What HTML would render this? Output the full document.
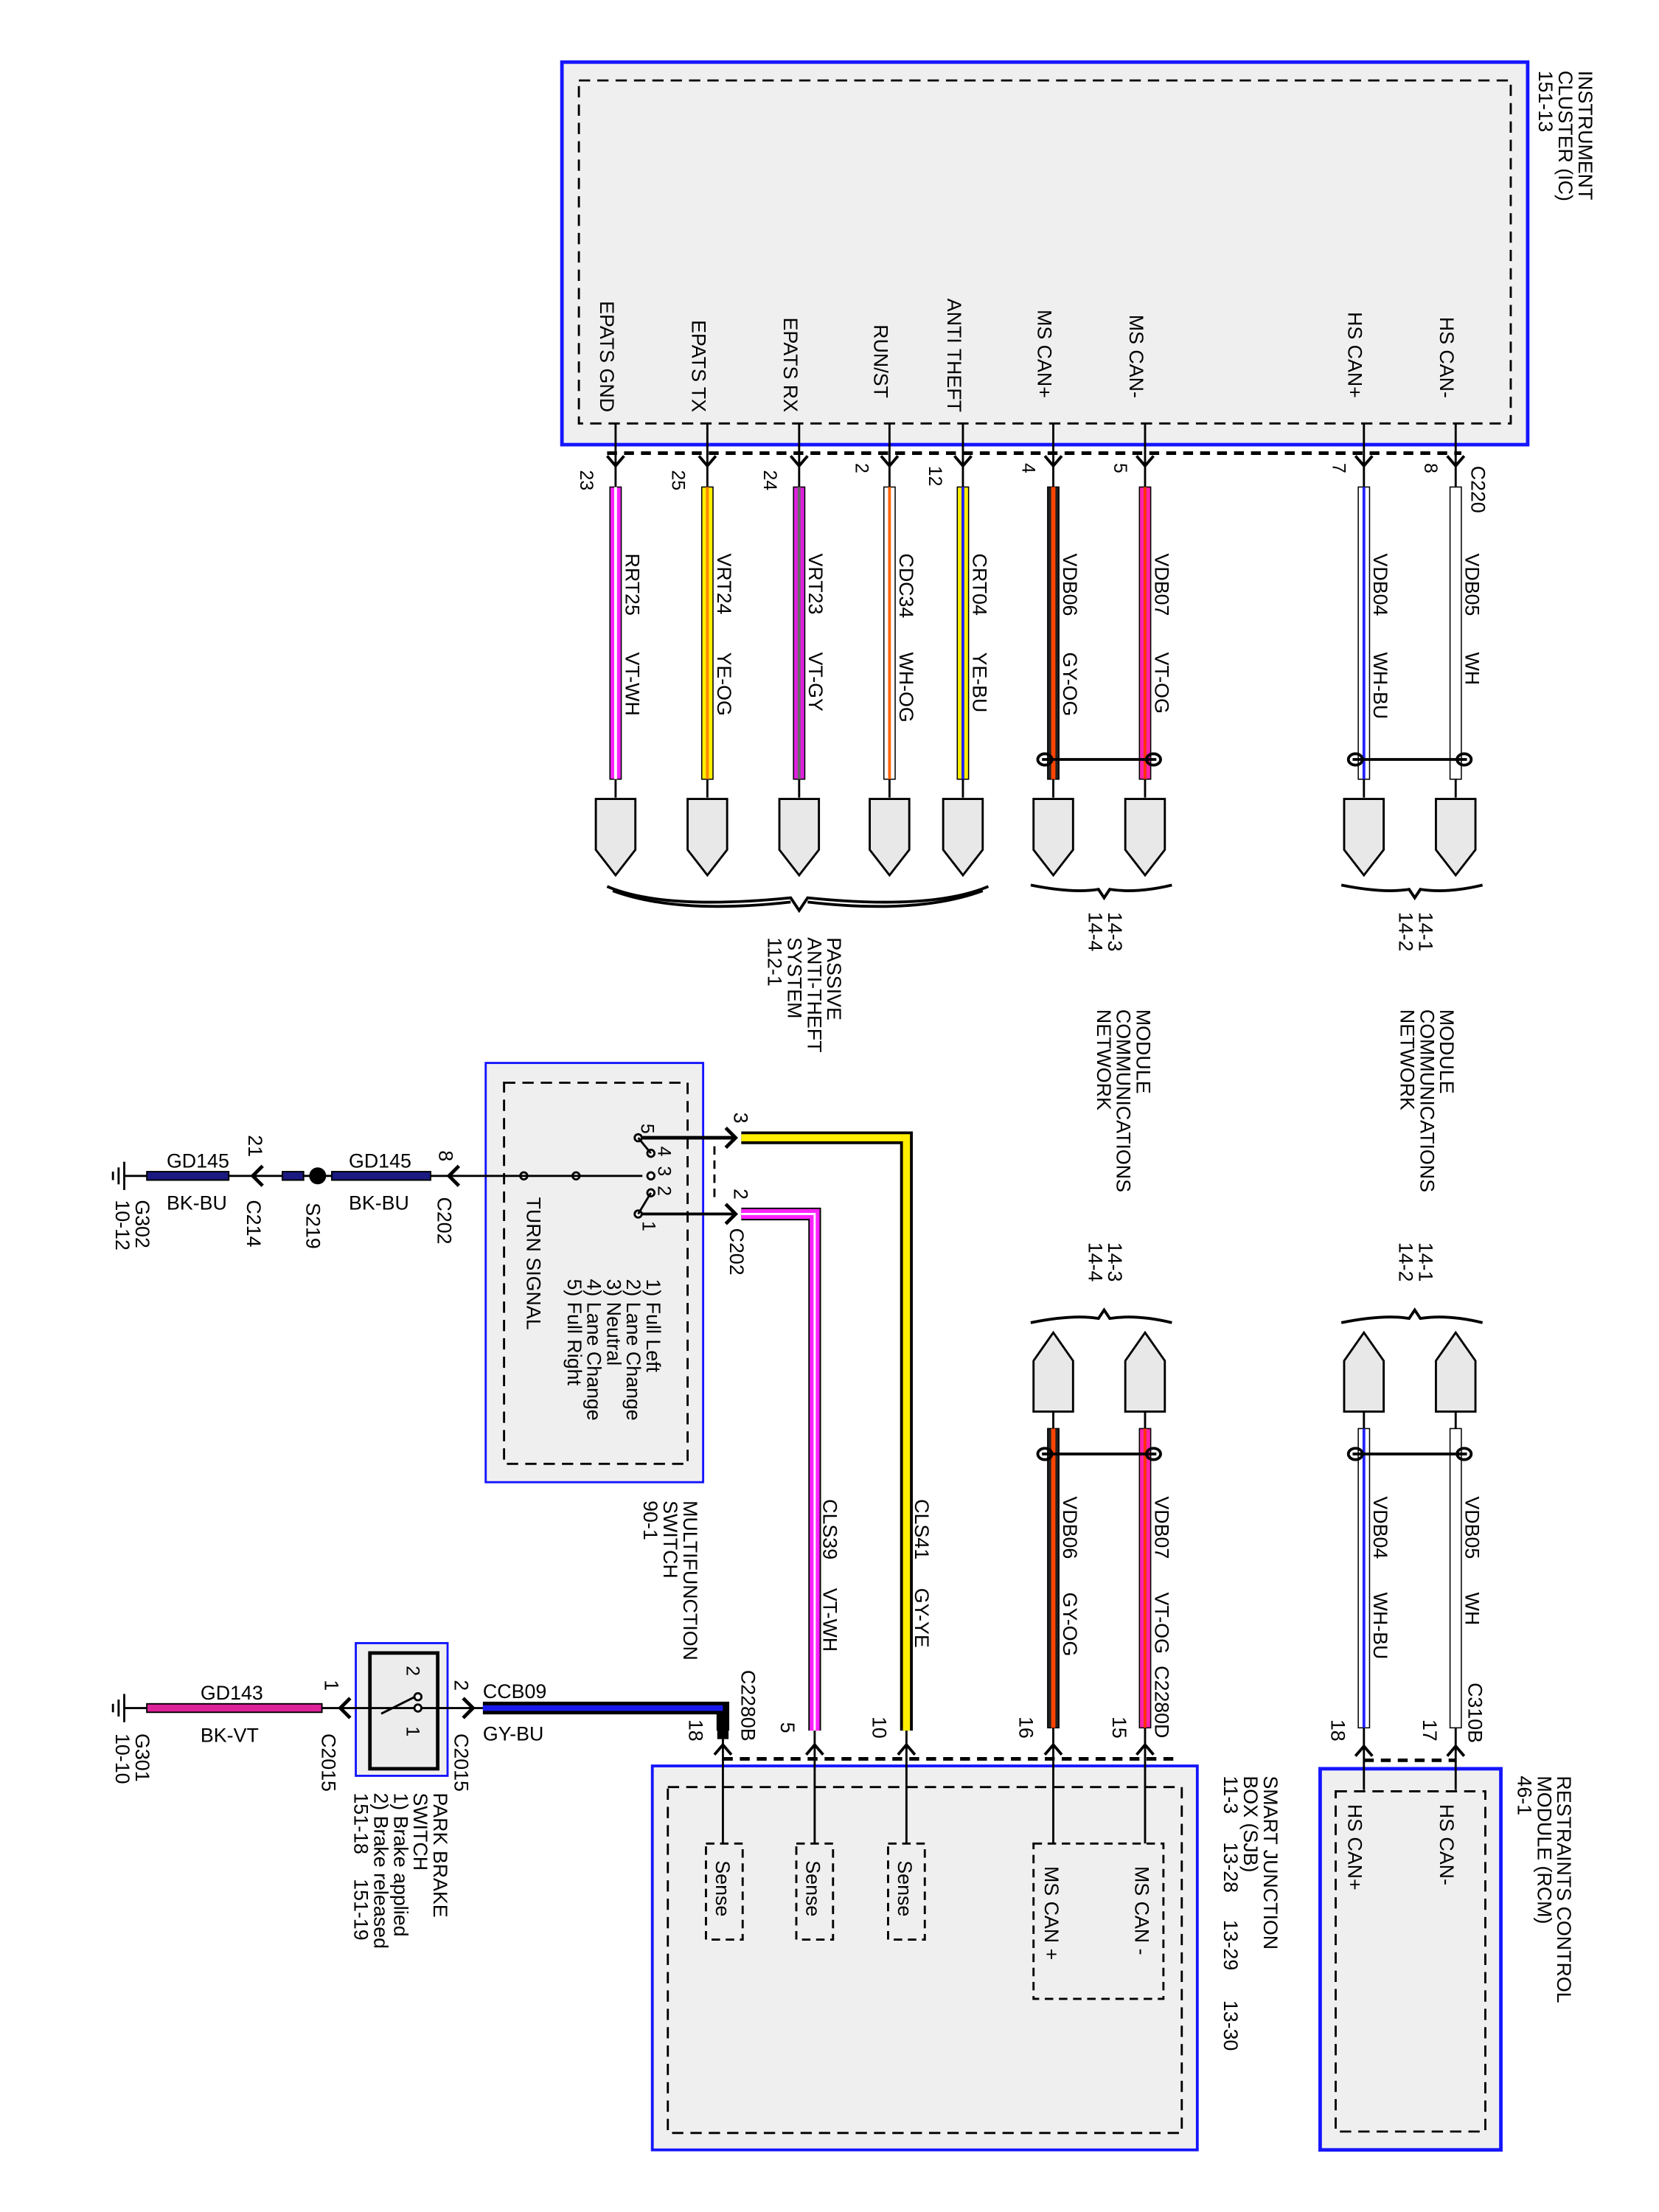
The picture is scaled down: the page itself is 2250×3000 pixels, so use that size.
<!DOCTYPE html>
<html><head><meta charset="utf-8"><style>
html,body{margin:0;padding:0;background:#fff;}
svg{display:block;}
text{font-family:"Liberation Sans",Arial,sans-serif;font-size:14px;fill:#000;}
.s{font-size:13px;}
</style></head><body>
<svg width="2250" height="3000" viewBox="0 0 1175 1567" preserveAspectRatio="none" xmlns="http://www.w3.org/2000/svg">
<defs>
<g id="arD"><path d="M-6,-7 L0,0 L6,-7" fill="none" stroke="#000" stroke-width="2"/></g>
<g id="arU"><path d="M-6,7 L0,0 L6,7" fill="none" stroke="#000" stroke-width="2"/></g>
<g id="plugD"><path d="M-14,0 L14,0 L14,36 L0,54 L-14,36 Z" fill="#e8e8e8" stroke="#000" stroke-width="1.5"/></g>
<g id="plugU"><path d="M-14,56 L14,56 L14,20 L0,0 L-14,20 Z" fill="#e8e8e8" stroke="#000" stroke-width="1.5"/></g>
</defs>

<!-- IC box -->
<rect x="398" y="44" width="684" height="271" fill="#efefef" stroke="#1515ff" stroke-width="2.5"/>
<rect x="410" y="57" width="660" height="243" fill="none" stroke="#000" stroke-width="1.5" stroke-dasharray="8,5"/>
<line x1="430" y1="321" x2="1035" y2="321" stroke="#000" stroke-width="2.5" stroke-dasharray="7,5"/>
<text transform="translate(1118,50) rotate(90)">INSTRUMENT</text>
<text transform="translate(1104,50) rotate(90)">CLUSTER (IC)</text>
<text transform="translate(1090,50) rotate(90)">151-13</text>

<!-- IC pin labels -->
<g>
<text transform="translate(425,292) rotate(90)" text-anchor="end">EPATS GND</text>
<text transform="translate(490,292) rotate(90)" text-anchor="end">EPATS TX</text>
<text transform="translate(555,292) rotate(90)" text-anchor="end">EPATS RX</text>
<text transform="translate(619,282) rotate(90)" text-anchor="end">RUN/ST</text>
<text transform="translate(671,292) rotate(90)" text-anchor="end">ANTI THEFT</text>
<text transform="translate(735,282) rotate(90)" text-anchor="end">MS CAN+</text>
<text transform="translate(800,282) rotate(90)" text-anchor="end">MS CAN-</text>
<text transform="translate(955,282) rotate(90)" text-anchor="end">HS CAN+</text>
<text transform="translate(1020,282) rotate(90)" text-anchor="end">HS CAN-</text>
</g>

<!-- upper pins -->
<g stroke="#000" stroke-width="1.5">
<line x1="436" y1="300" x2="436" y2="345"/><line x1="501" y1="300" x2="501" y2="345"/>
<line x1="566" y1="300" x2="566" y2="345"/><line x1="630" y1="300" x2="630" y2="345"/>
<line x1="682" y1="300" x2="682" y2="345"/><line x1="746" y1="300" x2="746" y2="345"/>
<line x1="811" y1="300" x2="811" y2="345"/><line x1="966" y1="300" x2="966" y2="345"/>
<line x1="1031" y1="300" x2="1031" y2="345"/>
</g>
<use href="#arD" x="436" y="330"/><use href="#arD" x="501" y="330"/><use href="#arD" x="566" y="330"/>
<use href="#arD" x="630" y="330"/><use href="#arD" x="682" y="330"/><use href="#arD" x="746" y="330"/>
<use href="#arD" x="811" y="330"/><use href="#arD" x="966" y="330"/><use href="#arD" x="1031" y="330"/>
<g class="s">
<text class="s" transform="translate(411,333) rotate(90)">23</text>
<text class="s" transform="translate(476,333) rotate(90)">25</text>
<text class="s" transform="translate(541,333) rotate(90)">24</text>
<text class="s" transform="translate(606,328) rotate(90)">2</text>
<text class="s" transform="translate(658,330) rotate(90)">12</text>
<text class="s" transform="translate(724,328) rotate(90)">4</text>
<text class="s" transform="translate(789,328) rotate(90)">5</text>
<text class="s" transform="translate(944,328) rotate(90)">7</text>
<text class="s" transform="translate(1009,328) rotate(90)">8</text>
<text transform="translate(1042,330) rotate(90)">C220</text>
</g>

<!-- upper wires -->
<g>
<rect x="432" y="345" width="8" height="207" fill="#ff22ff" stroke="#000" stroke-width="0.8"/><line x1="436" y1="345" x2="436" y2="552" stroke="#fff" stroke-width="2"/>
<rect x="497" y="345" width="8" height="207" fill="#ffee00" stroke="#000" stroke-width="0.8"/><line x1="501" y1="345" x2="501" y2="552" stroke="#ff8800" stroke-width="2"/>
<rect x="562" y="345" width="8" height="207" fill="#dd22dd" stroke="#000" stroke-width="0.8"/><line x1="566" y1="345" x2="566" y2="552" stroke="#666" stroke-width="2"/>
<rect x="626" y="345" width="8" height="207" fill="#fff" stroke="#000" stroke-width="0.8"/><line x1="630" y1="345" x2="630" y2="552" stroke="#ff6600" stroke-width="2"/>
<rect x="678" y="345" width="8" height="207" fill="#ffee00" stroke="#000" stroke-width="0.8"/><line x1="682" y1="345" x2="682" y2="552" stroke="#2222ff" stroke-width="2"/>
<rect x="742" y="345" width="8" height="207" fill="#222" stroke="#000" stroke-width="0.8"/><line x1="746" y1="345" x2="746" y2="552" stroke="#ff4400" stroke-width="3"/>
<rect x="807" y="345" width="8" height="207" fill="#ff22aa" stroke="#000" stroke-width="0.8"/><line x1="811" y1="345" x2="811" y2="552" stroke="#ff3300" stroke-width="2"/>
<rect x="962" y="345" width="8" height="207" fill="#fff" stroke="#000" stroke-width="0.8"/><line x1="966" y1="345" x2="966" y2="552" stroke="#2222ff" stroke-width="2"/>
<rect x="1027" y="345" width="8" height="207" fill="#fff" stroke="#000" stroke-width="0.8"/>
</g>
<g stroke="#000" stroke-width="1.5">
<line x1="436" y1="552" x2="436" y2="565"/><line x1="501" y1="552" x2="501" y2="565"/><line x1="566" y1="552" x2="566" y2="565"/>
<line x1="630" y1="552" x2="630" y2="565"/><line x1="682" y1="552" x2="682" y2="565"/><line x1="746" y1="552" x2="746" y2="565"/>
<line x1="811" y1="552" x2="811" y2="565"/><line x1="966" y1="552" x2="966" y2="565"/><line x1="1031" y1="552" x2="1031" y2="565"/>
</g>
<!-- twists upper -->
<g fill="none" stroke="#000" stroke-width="2">
<line x1="738" y1="538" x2="819" y2="538"/><ellipse cx="740" cy="538" rx="5" ry="4"/><ellipse cx="817" cy="538" rx="5" ry="4"/>
<line x1="958" y1="538" x2="1039" y2="538"/><ellipse cx="960" cy="538" rx="5" ry="4"/><ellipse cx="1037" cy="538" rx="5" ry="4"/>
</g>
<g>
<text transform="translate(443,392) rotate(90)">RRT25</text><text transform="translate(443,462) rotate(90)">VT-WH</text>
<text transform="translate(508,392) rotate(90)">VRT24</text><text transform="translate(508,462) rotate(90)">YE-OG</text>
<text transform="translate(573,392) rotate(90)">VRT23</text><text transform="translate(573,462) rotate(90)">VT-GY</text>
<text transform="translate(637,392) rotate(90)">CDC34</text><text transform="translate(637,462) rotate(90)">WH-OG</text>
<text transform="translate(689,392) rotate(90)">CRT04</text><text transform="translate(689,462) rotate(90)">YE-BU</text>
<text transform="translate(753,392) rotate(90)">VDB06</text><text transform="translate(753,462) rotate(90)">GY-OG</text>
<text transform="translate(818,392) rotate(90)">VDB07</text><text transform="translate(818,462) rotate(90)">VT-OG</text>
<text transform="translate(973,392) rotate(90)">VDB04</text><text transform="translate(973,462) rotate(90)">WH-BU</text>
<text transform="translate(1038,392) rotate(90)">VDB05</text><text transform="translate(1038,462) rotate(90)">WH</text>
</g>
<use href="#plugD" x="436" y="566"/><use href="#plugD" x="501" y="566"/><use href="#plugD" x="566" y="566"/>
<use href="#plugD" x="630" y="566"/><use href="#plugD" x="682" y="566"/><use href="#plugD" x="746" y="566"/>
<use href="#plugD" x="811" y="566"/><use href="#plugD" x="966" y="566"/><use href="#plugD" x="1031" y="566"/>
<!-- braces -->
<g fill="none" stroke="#000" stroke-width="2">
<path d="M430,628 Q470,645 560,636 L566,645 L572,636 Q660,645 700,628"/>
<path d="M434,631 Q480,648 560,639 M572,639 Q650,648 696,631"/>
<path d="M730,627 Q760,633 778,630 L782,636 L786,630 Q805,633 830,627"/>
<path d="M950,627 Q980,633 998,630 L1002,636 L1006,630 Q1025,633 1050,627"/>
</g>
<text transform="translate(586,664) rotate(90)">PASSIVE</text>
<text transform="translate(572,664) rotate(90)">ANTI-THEFT</text>
<text transform="translate(558,664) rotate(90)">SYSTEM</text>
<text transform="translate(544,664) rotate(90)">112-1</text>
<text transform="translate(785,646) rotate(90)">14-3</text><text transform="translate(771,646) rotate(90)">14-4</text>
<text transform="translate(1005,646) rotate(90)">14-1</text><text transform="translate(991,646) rotate(90)">14-2</text>
<text transform="translate(805,715) rotate(90)">MODULE</text>
<text transform="translate(791,715) rotate(90)">COMMUNICATIONS</text>
<text transform="translate(777,715) rotate(90)">NETWORK</text>
<text transform="translate(1020,715) rotate(90)">MODULE</text>
<text transform="translate(1006,715) rotate(90)">COMMUNICATIONS</text>
<text transform="translate(992,715) rotate(90)">NETWORK</text>
<text transform="translate(785,880) rotate(90)">14-3</text><text transform="translate(771,880) rotate(90)">14-4</text>
<text transform="translate(1005,880) rotate(90)">14-1</text><text transform="translate(991,880) rotate(90)">14-2</text>

<!-- lower network connectors -->
<g fill="none" stroke="#000" stroke-width="2">
<path d="M730,937 Q760,931 778,934 L782,928 L786,934 Q805,931 830,937"/>
<path d="M950,937 Q980,931 998,934 L1002,928 L1006,934 Q1025,931 1050,937"/>
</g>
<use href="#plugU" x="746" y="944"/><use href="#plugU" x="811" y="944"/>
<use href="#plugU" x="966" y="944"/><use href="#plugU" x="1031" y="944"/>
<g stroke="#000" stroke-width="1.5">
<line x1="746" y1="1000" x2="746" y2="1012"/><line x1="811" y1="1000" x2="811" y2="1012"/>
<line x1="966" y1="1000" x2="966" y2="1012"/><line x1="1031" y1="1000" x2="1031" y2="1012"/>
</g>
<rect x="742" y="1012" width="8" height="212" fill="#222" stroke="#000" stroke-width="0.8"/><line x1="746" y1="1012" x2="746" y2="1224" stroke="#ff4400" stroke-width="3"/>
<rect x="807" y="1012" width="8" height="212" fill="#ff22aa" stroke="#000" stroke-width="0.8"/><line x1="811" y1="1012" x2="811" y2="1224" stroke="#ff3300" stroke-width="2"/>
<rect x="962" y="1012" width="8" height="212" fill="#fff" stroke="#000" stroke-width="0.8"/><line x1="966" y1="1012" x2="966" y2="1224" stroke="#2222ff" stroke-width="2"/>
<rect x="1027" y="1012" width="8" height="212" fill="#fff" stroke="#000" stroke-width="0.8"/>
<g fill="none" stroke="#000" stroke-width="2">
<line x1="738" y1="1030" x2="819" y2="1030"/><ellipse cx="740" cy="1030" rx="5" ry="4"/><ellipse cx="817" cy="1030" rx="5" ry="4"/>
<line x1="958" y1="1030" x2="1039" y2="1030"/><ellipse cx="960" cy="1030" rx="5" ry="4"/><ellipse cx="1037" cy="1030" rx="5" ry="4"/>
</g>
<text transform="translate(753,1060) rotate(90)">VDB06</text><text transform="translate(753,1128) rotate(90)">GY-OG</text>
<text transform="translate(818,1060) rotate(90)">VDB07</text><text transform="translate(818,1128) rotate(90)">VT-OG</text>
<text transform="translate(818,1180) rotate(90)">C2280D</text>
<text transform="translate(973,1060) rotate(90)">VDB04</text><text transform="translate(973,1128) rotate(90)">WH-BU</text>
<text transform="translate(1038,1060) rotate(90)">VDB05</text><text transform="translate(1038,1128) rotate(90)">WH</text>
<text transform="translate(1040,1192) rotate(90)">C310B</text>

<!-- Multifunction switch -->
<rect x="344" y="753" width="154" height="297" fill="#efefef" stroke="#1515ff" stroke-width="1.5"/>
<rect x="357" y="767" width="130" height="270" fill="none" stroke="#000" stroke-width="1.5" stroke-dasharray="8,5"/>
<line x1="506" y1="812" x2="506" y2="852" stroke="#000" stroke-width="1.5" stroke-dasharray="6,4"/>
<!-- wire 3 yellow -->
<path d="M455,806 L520,806" stroke="#000" stroke-width="2.5" fill="none"/>
<path d="M514,799 L521,806 L514,813" stroke="#000" stroke-width="2.5" fill="none"/>
<path d="M525,806 L642,806 L642,1226" stroke="#000" stroke-width="9" fill="none"/>
<path d="M525,806 L642,806 L642,1226" stroke="#ffee00" stroke-width="5" fill="none"/>
<!-- wire 2 magenta -->
<path d="M452,860 L520,860" stroke="#000" stroke-width="2" fill="none"/>
<path d="M514,853 L521,860 L514,867" stroke="#000" stroke-width="2.5" fill="none"/>
<path d="M525,860 L577,860 L577,1226" stroke="#000" stroke-width="9" fill="none"/>
<path d="M525,860 L577,860 L577,1226" stroke="#ff22ff" stroke-width="7" fill="none"/>
<path d="M525,860 L577,860 L577,1226" stroke="#fff" stroke-width="1.5" fill="none"/>
<!-- switch contacts -->
<g fill="#fff" stroke="#000" stroke-width="1.5">
<circle cx="452" cy="806" r="2.5"/><circle cx="461" cy="817" r="2.5"/><circle cx="461" cy="833" r="2.5"/>
<circle cx="461" cy="845" r="2.5"/><circle cx="452" cy="860" r="2.5"/>
<circle cx="371" cy="833" r="2.5"/><circle cx="408" cy="833" r="2.5"/>
</g>
<g stroke="#000" stroke-width="1.5"><line x1="452" y1="806" x2="461" y2="817"/><line x1="452" y1="860" x2="461" y2="845"/></g>
<text class="s" transform="translate(454,796) rotate(90)">5</text>
<text class="s" transform="translate(466,812) rotate(90)">4</text>
<text class="s" transform="translate(466,826) rotate(90)">3</text>
<text class="s" transform="translate(466,840) rotate(90)">2</text>
<text class="s" transform="translate(455,865) rotate(90)">1</text>
<text transform="translate(520,788) rotate(90)">3</text>
<text transform="translate(520,842) rotate(90)">2</text>
<text transform="translate(517,870) rotate(90)">C202</text>
<text transform="translate(458,906) rotate(90)">1) Full Left</text>
<text transform="translate(444,906) rotate(90)">2) Lane Change</text>
<text transform="translate(430,906) rotate(90)">3) Neutral</text>
<text transform="translate(416,906) rotate(90)">4) Lane Change</text>
<text transform="translate(402,906) rotate(90)">5) Full Right</text>
<text transform="translate(373,848) rotate(90)">TURN SIGNAL</text>
<text transform="translate(484,1063) rotate(90)">MULTIFUNCTION</text>
<text transform="translate(470,1063) rotate(90)">SWITCH</text>
<text transform="translate(456,1063) rotate(90)">90-1</text>
<text transform="translate(648,1062) rotate(90)">CLS41</text><text transform="translate(648,1125) rotate(90)">GY-YE</text>
<text transform="translate(583,1062) rotate(90)">CLS39</text><text transform="translate(583,1125) rotate(90)">VT-WH</text>

<!-- left ground wire GD145 -->
<line x1="88" y1="833" x2="455" y2="833" stroke="#000" stroke-width="1.5"/>
<rect x="104" y="830" width="58" height="6" fill="#1a1a80" stroke="#000" stroke-width="1"/>
<rect x="200" y="830" width="15" height="6" fill="#1a1a80" stroke="#000" stroke-width="1"/>
<rect x="235" y="830" width="70" height="6" fill="#1a1a80" stroke="#000" stroke-width="1"/>
<circle cx="225" cy="833" r="6" fill="#000"/>
<path d="M186,826 L179,833 L186,840" stroke="#000" stroke-width="2.5" fill="none"/>
<path d="M325,826 L318,833 L325,840" stroke="#000" stroke-width="2.5" fill="none"/>
<g stroke="#000" stroke-width="1.5"><line x1="88" y1="823" x2="88" y2="843"/><line x1="84" y1="827" x2="84" y2="839"/><line x1="80" y1="830" x2="80" y2="836"/></g>
<text x="118" y="827">GD145</text><text x="118" y="857">BK-BU</text>
<text x="247" y="827">GD145</text><text x="247" y="857">BK-BU</text>
<text transform="translate(176,804) rotate(90)">21</text>
<text transform="translate(175,850) rotate(90)">C214</text>
<text transform="translate(217,852) rotate(90)">S219</text>
<text transform="translate(311,815) rotate(90)">8</text>
<text transform="translate(310,848) rotate(90)">C202</text>
<text transform="translate(96,850) rotate(90)">G302</text>
<text transform="translate(82,850) rotate(90)">10-12</text>

<!-- Park brake switch -->
<rect x="252" y="1164" width="65" height="94" fill="#efefef" stroke="#1515ff" stroke-width="1.5"/>
<rect x="262" y="1171" width="48" height="82" fill="#ececec" stroke="#000" stroke-width="2.5"/>
<line x1="88" y1="1210" x2="342" y2="1210" stroke="#000" stroke-width="1.5"/>
<line x1="270" y1="1214" x2="294" y2="1202" stroke="#000" stroke-width="1.5"/>
<circle cx="296" cy="1202" r="2.5" fill="#fff" stroke="#000" stroke-width="1.5"/>
<circle cx="296" cy="1210" r="2.5" fill="#fff" stroke="#000" stroke-width="1.5"/>
<rect x="104" y="1207" width="124" height="6" fill="#dd2299" stroke="#000" stroke-width="1"/>
<path d="M248,1203 L241,1210 L248,1217" stroke="#000" stroke-width="2.5" fill="none"/>
<path d="M328,1203 L335,1210 L328,1217" stroke="#000" stroke-width="2.5" fill="none"/>
<path d="M342,1210 L512,1210 L512,1226" stroke="#000" stroke-width="9" fill="none"/>
<path d="M342,1210 L512,1210" stroke="#1a1aee" stroke-width="4" fill="none"/>
<g stroke="#000" stroke-width="1.5"><line x1="88" y1="1200" x2="88" y2="1220"/><line x1="84" y1="1204" x2="84" y2="1216"/><line x1="80" y1="1207" x2="80" y2="1213"/></g>
<text x="142" y="1204">GD143</text><text x="142" y="1234">BK-VT</text>
<text x="342" y="1203">CCB09</text><text x="342" y="1233">GY-BU</text>
<text class="s" transform="translate(288,1180) rotate(90)">2</text>
<text class="s" transform="translate(288,1223) rotate(90)">1</text>
<text transform="translate(230,1190) rotate(90)">1</text>
<text transform="translate(228,1228) rotate(90)">C2015</text>
<text transform="translate(322,1190) rotate(90)">2</text>
<text transform="translate(322,1228) rotate(90)">C2015</text>
<text transform="translate(96,1228) rotate(90)">G301</text>
<text transform="translate(82,1228) rotate(90)">10-10</text>
<text transform="translate(307,1270) rotate(90)">PARK BRAKE</text>
<text transform="translate(293,1270) rotate(90)">SWITCH</text>
<text transform="translate(279,1270) rotate(90)">1) Brake applied</text>
<text transform="translate(265,1270) rotate(90)">2) Brake released</text>
<text transform="translate(251,1270) rotate(90)">151-18</text>
<text transform="translate(251,1331) rotate(90)">151-19</text>

<!-- SJB -->
<rect x="462" y="1251" width="386" height="272" fill="#efefef" stroke="#1515ff" stroke-width="2"/>
<rect x="473" y="1266" width="364" height="245" fill="none" stroke="#000" stroke-width="1.5" stroke-dasharray="8,5"/>
<line x1="512" y1="1246" x2="835" y2="1246" stroke="#000" stroke-width="2.5" stroke-dasharray="7,5"/>
<g stroke="#000" stroke-width="1.5">
<line x1="512" y1="1226" x2="512" y2="1306"/><line x1="577" y1="1226" x2="577" y2="1306"/>
<line x1="642" y1="1226" x2="642" y2="1306"/><line x1="746" y1="1224" x2="746" y2="1306"/>
<line x1="811" y1="1224" x2="811" y2="1306"/>
</g>
<use href="#arU" x="512" y="1236"/><use href="#arU" x="577" y="1236"/><use href="#arU" x="642" y="1236"/>
<use href="#arU" x="746" y="1236"/><use href="#arU" x="811" y="1236"/>
<g fill="#efefef" stroke="#000" stroke-width="1.5" stroke-dasharray="6,4">
<rect x="500" y="1306" width="26" height="68"/><rect x="564" y="1306" width="26" height="68"/>
<rect x="629" y="1306" width="26" height="68"/><rect x="732" y="1306" width="92" height="110"/>
</g>
<text transform="translate(507,1318) rotate(90)">Sense</text>
<text transform="translate(571,1318) rotate(90)">Sense</text>
<text transform="translate(636,1318) rotate(90)">Sense</text>
<text transform="translate(740,1322) rotate(90)">MS CAN +</text>
<text transform="translate(804,1322) rotate(90)">MS CAN -</text>
<text transform="translate(488,1218) rotate(90)">18</text>
<text transform="translate(553,1220) rotate(90)">5</text>
<text transform="translate(618,1216) rotate(90)">10</text>
<text transform="translate(722,1216) rotate(90)">16</text>
<text transform="translate(788,1216) rotate(90)">15</text>
<text transform="translate(525,1183) rotate(90)">C2280B</text>
<rect x="508" y="1218" width="8" height="14" fill="#000"/>
<text transform="translate(895,1258) rotate(90)">SMART JUNCTION</text>
<text transform="translate(881,1258) rotate(90)">BOX (SJB)</text>
<text transform="translate(867,1258) rotate(90)">11-3</text>
<text transform="translate(867,1305) rotate(90)">13-28</text>
<text transform="translate(867,1360) rotate(90)">13-29</text>
<text transform="translate(867,1417) rotate(90)">13-30</text>

<!-- RCM -->
<rect x="935" y="1253" width="128" height="270" fill="#efefef" stroke="#1515ff" stroke-width="2.5"/>
<rect x="946" y="1269" width="106" height="241" fill="none" stroke="#000" stroke-width="1.5" stroke-dasharray="8,5"/>
<line x1="966" y1="1247" x2="1031" y2="1247" stroke="#000" stroke-width="2.5" stroke-dasharray="7,5"/>
<g stroke="#000" stroke-width="1.5"><line x1="966" y1="1224" x2="966" y2="1268"/><line x1="1031" y1="1224" x2="1031" y2="1268"/></g>
<use href="#arU" x="966" y="1237"/><use href="#arU" x="1031" y="1237"/>
<text transform="translate(943,1218) rotate(90)">18</text>
<text transform="translate(1008,1218) rotate(90)">17</text>
<text transform="translate(955,1278) rotate(90)">HS CAN+</text>
<text transform="translate(1020,1278) rotate(90)">HS CAN-</text>
<text transform="translate(1103,1258) rotate(90)">RESTRAINTS CONTROL</text>
<text transform="translate(1089,1258) rotate(90)">MODULE (RCM)</text>
<text transform="translate(1075,1258) rotate(90)">46-1</text>
</svg>
</body></html>
